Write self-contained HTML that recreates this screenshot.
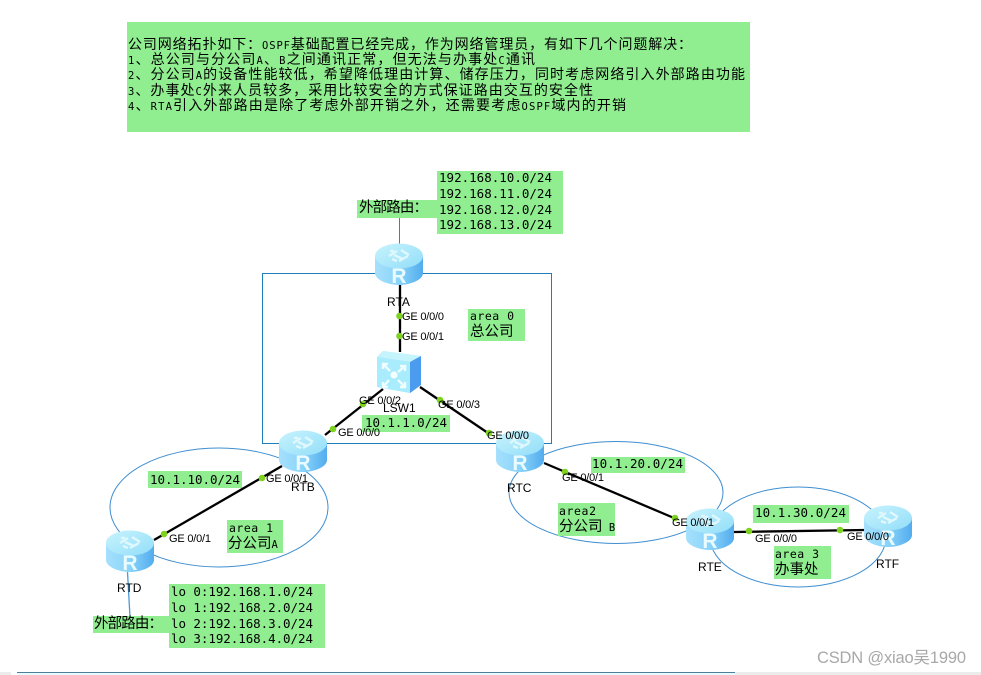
<!DOCTYPE html>
<html><head><meta charset="utf-8">
<style>
html,body{margin:0;padding:0;background:#fff;width:981px;height:675px;overflow:hidden}
svg{display:block}
.m{font-family:"DejaVu Sans Mono","WenQuanYi Zen Hei","Noto Sans CJK SC",monospace;fill:#000}
.h{font-size:14px}
.h tspan.l{font-size:10.5px}
.ip{font-size:12.5px}
.a{font-size:11.5px}
.c{font-size:14.5px}
.p{font-family:"Liberation Sans",sans-serif;font-size:11px;fill:#000}
.n{font-family:"Liberation Sans",sans-serif;font-size:12px;fill:#000}
.b{fill:#90EE90}
</style></head><body>
<svg width="981" height="675" viewBox="0 0 981 675" xmlns="http://www.w3.org/2000/svg">
<defs>
<linearGradient id="side" x1="0" x2="1" y1="0" y2="0">
<stop offset="0" stop-color="#a6e0fc"/><stop offset=".5" stop-color="#8ad4fa"/><stop offset="1" stop-color="#52acee"/>
</linearGradient>
<linearGradient id="top" x1="0" x2="1" y1="0" y2="1">
<stop offset="0" stop-color="#c8f3fd"/><stop offset="1" stop-color="#92def9"/>
</linearGradient>
<g id="router">
<path d="M-24,-8 V9 C-24,16 -11,21 0,21 C11,21 24,16 24,9 V-8 Z" fill="url(#side)"/>
<ellipse cx="0" cy="-8" rx="24" ry="12.5" fill="url(#top)"/>
<path d="M-10,-8 L-2,-13 M0,-3 L9,-8 M-9,-13 L-5,-13 M-2,-3 L-7,-5 M2,-14 L10,-9 M-5,-9 L4,-5" stroke="#dff8fe" stroke-width="2.4" fill="none"/>
<text x="0" y="19" text-anchor="middle" font-family="Liberation Sans,sans-serif" font-size="21" font-weight="bold" fill="#eafbff">R</text>
</g>
</defs>

<!-- header -->
<rect class="b" x="127" y="22" width="623" height="110"/>
<text class="m h" x="128" y="49" textLength="564" lengthAdjust="spacing">公司网络拓扑如下：<tspan class="l">OSPF</tspan>基础配置已经完成，作为网络管理员，有如下几个问题解决：</text>
<text class="m h" x="128" y="64" textLength="407" lengthAdjust="spacing"><tspan class="l">1</tspan>、总公司与分公司<tspan class="l">A</tspan>、<tspan class="l">B</tspan>之间通讯正常，但无法与办事处<tspan class="l">C</tspan>通讯</text>
<text class="m h" x="128" y="79" textLength="617" lengthAdjust="spacing"><tspan class="l">2</tspan>、分公司<tspan class="l">A</tspan>的设备性能较低，希望降低理由计算、储存压力，同时考虑网络引入外部路由功能</text>
<text class="m h" x="128" y="95" textLength="465" lengthAdjust="spacing"><tspan class="l">3</tspan>、办事处<tspan class="l">C</tspan>外来人员较多，采用比较安全的方式保证路由交互的安全性</text>
<text class="m h" x="128" y="110" textLength="498" lengthAdjust="spacing"><tspan class="l">4</tspan>、<tspan class="l">RTA</tspan>引入外部路由是除了考虑外部开销之外，还需要考虑<tspan class="l">OSPF</tspan>域内的开销</text>

<!-- areas -->
<rect x="262.5" y="273.5" width="289" height="170" fill="none" stroke="#1e7fb8" stroke-width="1"/>
<ellipse cx="219" cy="507.5" rx="109" ry="59.5" fill="none" stroke="#3f8ed0" stroke-width="1"/>
<ellipse cx="616" cy="492.5" rx="107" ry="51" fill="none" stroke="#3f8ed0" stroke-width="1"/>
<ellipse cx="798" cy="537" rx="88" ry="50" fill="none" stroke="#3f8ed0" stroke-width="1"/>
<line x1="399.5" y1="218" x2="399.5" y2="244" stroke="#2f86c4" stroke-width="1"/>
<line x1="127.5" y1="572" x2="130" y2="617" stroke="#4a9ad8" stroke-width="1.3"/>

<!-- label boxes -->
<rect class="b" x="357" y="200" width="80" height="18"/>
<rect class="b" x="437" y="171" width="126" height="63"/>
<rect class="b" x="468" y="309" width="57" height="32"/>
<rect class="b" x="362" y="415" width="88" height="17"/>
<rect class="b" x="148" y="471" width="94" height="17"/>
<rect class="b" x="227" y="520" width="56" height="33"/>
<rect class="b" x="169" y="584" width="156" height="64"/>
<rect class="b" x="93" y="616" width="76" height="17"/>
<rect class="b" x="591" y="457" width="94" height="16"/>
<rect class="b" x="558" y="503" width="57" height="33"/>
<rect class="b" x="753" y="505" width="96" height="18"/>
<rect class="b" x="774" y="546" width="57" height="33"/>

<!-- links -->
<g stroke="#000" stroke-width="2.3" fill="none">
<line x1="400" y1="284" x2="400" y2="352"/>
<line x1="383" y1="389" x2="325" y2="435"/>
<line x1="420" y1="387" x2="488" y2="433"/>
<line x1="282" y1="466" x2="154" y2="540"/>
<line x1="544" y1="463" x2="674" y2="518"/>
<line x1="734" y1="532" x2="865" y2="530"/>
</g>

<!-- routers -->
<use href="#router" x="399" y="264"/>
<use href="#router" x="303" y="451"/>
<use href="#router" x="520" y="451"/>
<use href="#router" x="130" y="551"/>
<use href="#router" x="710" y="529"/>
<use href="#router" x="888" y="526"/>

<!-- switch -->
<g>
<path d="M377,357 L383,351 L421,356 L421,385 L410,393 L377,387 Z" fill="#9fe4fb"/>
<path d="M377,357 L383,351 L421,356 L410,362 Z" fill="#c6f4fd"/>
<path d="M410,362 L421,356 L421,385 L410,393 Z" fill="#4b9bee"/>
<path d="M377,357 L410,362 L410,393 L377,387 Z" fill="#a8ecfd"/>
<circle cx="394" cy="375" r="3.6" fill="#f4ffff"/>
<path d="M383,364 L390,371 M383,387 L389,380 M405,366 L398,372 M405,387 L398,380 M383,369 V364 H388 M383,382 V387 H388 M405,371 V366 H400 M405,382 V387 H400" stroke="#f0fdff" stroke-width="2.4" fill="none"/>
</g>

<!-- port dots -->
<g fill="#7ed321">
<circle cx="399.5" cy="316" r="3.3"/><circle cx="399.5" cy="336" r="3.3"/>
<circle cx="363" cy="404" r="3.3"/><circle cx="333" cy="429" r="3.3"/>
<circle cx="440" cy="400" r="3.3"/><circle cx="489" cy="433" r="3.3"/>
<circle cx="262" cy="478" r="3.3"/><circle cx="164" cy="534" r="3.3"/>
<circle cx="565" cy="472" r="3.3"/><circle cx="675" cy="518" r="3.3"/>
<circle cx="749" cy="531" r="3.3"/><circle cx="840" cy="530" r="3.3"/>
</g>

<!-- IP text -->
<text class="m c" x="359" y="212" textLength="69">外部路由：</text>
<text class="m ip" x="439" y="182" textLength="113">192.168.10.0/24</text>
<text class="m ip" x="439" y="198" textLength="113">192.168.11.0/24</text>
<text class="m ip" x="439" y="214" textLength="113">192.168.12.0/24</text>
<text class="m ip" x="439" y="229" textLength="113">192.168.13.0/24</text>
<text class="m a" x="470" y="320" textLength="44">area 0</text>
<text class="m c" x="470" y="336">总公司</text>
<text class="m ip" x="365" y="427" textLength="82">10.1.1.0/24</text>
<text class="m ip" x="150" y="484" textLength="90">10.1.10.0/24</text>
<text class="m a" x="229" y="532" textLength="44">area 1</text>
<text class="m c" x="228" y="548">分公司<tspan style="font-size:10.5px">A</tspan></text>
<text class="m ip" x="171" y="596" textLength="142">lo 0:192.168.1.0/24</text>
<text class="m ip" x="171" y="612" textLength="142">lo 1:192.168.2.0/24</text>
<text class="m ip" x="171" y="628" textLength="142">lo 2:192.168.3.0/24</text>
<text class="m ip" x="171" y="643" textLength="142">lo 3:192.168.4.0/24</text>
<text class="m c" x="94" y="628" textLength="69">外部路由：</text>
<text class="m ip" x="592" y="468" textLength="91">10.1.20.0/24</text>
<text class="m a" x="559" y="515" textLength="37">area2</text>
<text class="m c" x="559" y="531">分公司<tspan style="font-size:10.5px"> B</tspan></text>
<text class="m ip" x="755" y="517" textLength="91">10.1.30.0/24</text>
<text class="m a" x="775" y="558" textLength="44">area 3</text>
<text class="m c" x="775" y="574">办事处</text>

<!-- port labels -->
<text class="p" x="402" y="320" textLength="42">GE 0/0/0</text>
<text class="p" x="402" y="340" textLength="42">GE 0/0/1</text>
<text class="p" x="359" y="404" textLength="42">GE 0/0/2</text>
<text class="p" x="338" y="436" textLength="42">GE 0/0/0</text>
<text class="p" x="438" y="408" textLength="42">GE 0/0/3</text>
<text class="p" x="487" y="439" textLength="42">GE 0/0/0</text>
<text class="p" x="266" y="482" textLength="42">GE 0/0/1</text>
<text class="p" x="169" y="542" textLength="42">GE 0/0/1</text>
<text class="p" x="562" y="481" textLength="42">GE 0/0/1</text>
<text class="p" x="672" y="526" textLength="42">GE 0/0/1</text>
<text class="p" x="755" y="542" textLength="42">GE 0/0/0</text>
<text class="p" x="847" y="540" textLength="42">GE 0/0/0</text>

<!-- node labels -->
<text class="n" x="387" y="306">RTA</text>
<text class="n" x="383" y="412">LSW1</text>
<text class="n" x="291" y="491">RTB</text>
<text class="n" x="507" y="492">RTC</text>
<text class="n" x="117" y="592">RTD</text>
<text class="n" x="698" y="571">RTE</text>
<text class="n" x="876" y="568">RTF</text>

<!-- watermark -->
<text x="817" y="663" font-family="Liberation Sans,'Noto Sans CJK SC',sans-serif" font-size="16.5" fill="#a8a8a8" textLength="149">CSDN @xiao吴1990</text>

<!-- bottom strip -->
<rect x="0" y="672" width="981" height="3" fill="#ececec"/>
<rect x="11" y="672" width="6" height="3" fill="#fff"/>
<rect x="17" y="673" width="718" height="2" fill="#e6fbff"/>
<rect x="17" y="672" width="718" height="1" fill="#4f7d9c"/>
</svg>
</body></html>
